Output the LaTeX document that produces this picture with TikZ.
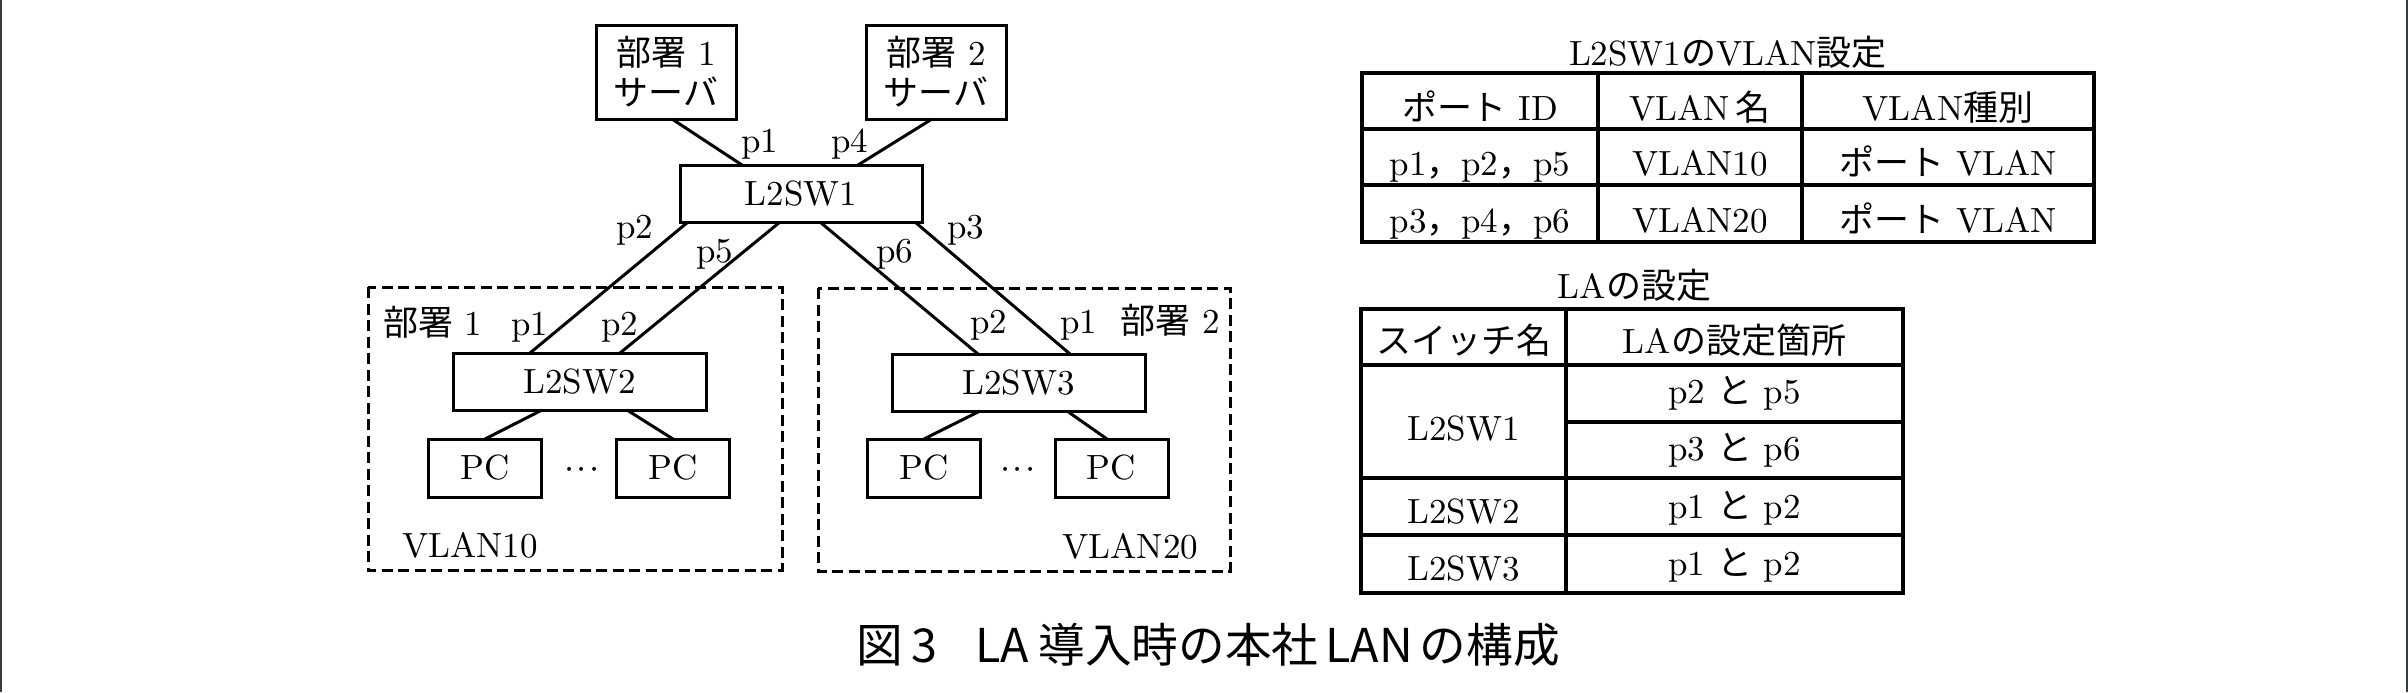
\documentclass[tikz,border=0pt]{standalone}
\usepackage{fontspec}
\newfontfamily\jpfont{Noto Sans CJK JP}
\usetikzlibrary{calc}
\newcommand\jpx[1]{{\jpfont #1}}
\definecolor{framecol}{RGB}{55,60,65}
\begin{document}
\begin{tikzpicture}[x=0.3pt,y=-0.3pt,
  every node/.style={font=\fontsize{10.5}{12}\selectfont, inner sep=0pt, outer sep=0pt},
  bx/.style={draw, line width=0.9pt, align=center},
  srv/.style={bx, minimum width=42pt, minimum height=28.2pt},
  swb/.style={bx, minimum width=75.9pt, minimum height=17.1pt},
  pcb/.style={bx, minimum width=33.9pt, minimum height=17.4pt},
  ln/.style={line width=0.9pt},
  grp/.style={line width=0.9pt, dash pattern=on 3.3pt off 1.65pt},
  tb/.style={line width=1.1pt},
  lbl/.style={anchor=base},
  frame/.style={line width=0.6pt, draw=framecol}]
\useasboundingbox (0,0) rectangle (2408,692);
\draw[frame] (1,0) -- (1,692);
\draw[frame] (2407,0) -- (2407,692);

% groups
\draw[grp] (368,287) rectangle (782,570);
\draw[grp] (818,288) rectangle (1230,571);

% nodes
\node[srv] (s1) at (666,72) {\jpx{部署} 1\\\jpx{サーバ}};
\node[srv] (s2) at (936,72) {\jpx{部署} 2\\\jpx{サーバ}};
\node[swb, minimum width=72.6pt] (sw1) at (801,193.5) {L2SW1};
\node[swb] (sw2) at (579.5,381.5) {L2SW2};
\node[swb] (sw3) at (1018.5,382.5) {L2SW3};
\node[pcb] (pc1) at (485,468) {PC};
\node[pcb] (pc2) at (673,468) {PC};
\node[pcb] (pc3) at (924,468) {PC};
\node[pcb] (pc4) at (1111.5,468) {PC};
\node[lbl] (d1) at (582,478) {$\cdot\!\cdot\!\cdot$};
\node[lbl] (d2) at (1018,478) {$\cdot\!\cdot\!\cdot$};

% connectors
\draw[ln] ($(s1.south)+(6,0)$) -- ($(sw1.north)+(-59,0)$);
\draw[ln] ($(s2.south)+(-4,0)$) -- ($(sw1.north)+(57,0)$);
\draw[ln] ($(sw1.south)+(-113,0)$) -- ($(sw2.north)+(-49.5,0)$);
\draw[ln] ($(sw1.south)+(-21,0)$) -- ($(sw2.north)+(40.5,0)$);
\draw[ln] ($(sw1.south)+(19,0)$) -- ($(sw3.north)+(-40.5,0)$);
\draw[ln] ($(sw1.south)+(114,0)$) -- ($(sw3.north)+(51.5,0)$);
\draw[ln] ($(sw2.south)+(-37.5,0)$) -- (pc1.north);
\draw[ln] ($(sw2.south)+(47.5,0)$) -- (pc2.north);
\draw[ln] ($(sw3.south)+(-38.5,0)$) -- (pc3.north);
\draw[ln] ($(sw3.south)+(48.5,0)$) -- ($(pc4.north)+(-4.5,0)$);

% port labels
\node[lbl] (t1) at (759.5,152) {p1};
\node[lbl] (t2) at (850,152) {p4};
\node[lbl] (t3) at (634.5,238) {p2};
\node[lbl] (t4) at (714.5,262) {p5};
\node[lbl] (t5) at (894.5,262) {p6};
\node[lbl] (t6) at (965.5,238) {p3};
\node[anchor=base west] (g1) at (383,335) {\jpx{部署} 1};
\node[lbl] (t7) at (530,335) {p1};
\node[lbl] (t8) at (620,335) {p2};
\node[anchor=base west] (v1) at (402,557) {VLAN10};
\node[lbl] (t9) at (989,333) {p2};
\node[lbl] (t10) at (1079,333) {p1};
\node[anchor=base east] (g2) at (1220,333) {\jpx{部署} 2};
\node[anchor=base east] (v2) at (1198,558) {VLAN20};

% table 1
\node[lbl] (ti1) at (1728,65) {L2SW1\jpx{の}VLAN\jpx{設定}};
\draw[tb] (1362,73) rectangle (2094,242);
\draw[tb] (1362,129) -- (2094,129);
\draw[tb] (1362,185) -- (2094,185);
\draw[tb] (1598,73) -- (1598,242);
\draw[tb] (1802,73) -- (1802,242);
\node[lbl] (a11) at (1480,120) {\jpx{ポート} ID};
\node[lbl] (a12) at (1700,120) {VLAN\,\jpx{名}};
\node[lbl] (a13) at (1948,120) {VLAN\jpx{種別}};
\node[lbl] (a21) at (1480,175) {p1\jpx{，}p2\jpx{，}p5};
\node[lbl] (a22) at (1700,175) {VLAN10};
\node[lbl] (a23) at (1948,175) {\jpx{ポート} VLAN};
\node[lbl] (a31) at (1480,232) {p3\jpx{，}p4\jpx{，}p6};
\node[lbl] (a32) at (1700,232) {VLAN20};
\node[lbl] (a33) at (1948,232) {\jpx{ポート} VLAN};

% table 2
\node[lbl] (ti2) at (1634.5,298) {LA\jpx{の設定}};
\draw[tb] (1361,309) rectangle (1903,593);
\draw[tb] (1361,365) -- (1903,365);
\draw[tb] (1566,422) -- (1903,422);
\draw[tb] (1361,478) -- (1903,478);
\draw[tb] (1361,535) -- (1903,535);
\draw[tb] (1566,309) -- (1566,593);
\node[lbl] (b11) at (1463.5,353) {\jpx{スイッチ名}};
\node[lbl] (b12) at (1734.5,353) {LA\jpx{の設定箇所}};
\node[lbl] (b21) at (1463.5,440) {L2SW1};
\node[lbl] (b22) at (1734.5,403) {p2 \jpx{と} p5};
\node[lbl] (b23) at (1734.5,460) {p3 \jpx{と} p6};
\node[lbl] (b31) at (1463.5,523) {L2SW2};
\node[lbl] (b32) at (1734.5,518) {p1 \jpx{と} p2};
\node[lbl] (b41) at (1463.5,580) {L2SW3};
\node[lbl] (b42) at (1734.5,575) {p1 \jpx{と} p2};

% caption
\node[lbl, font=\jpfont\fontsize{14}{16}\selectfont] (cap) at (1208,662)
  {図\hspace{0.2em}3\hspace{0.8em}LA\hspace{0.2em}導入時の本社\hspace{0.15em}LAN\hspace{0.15em}の構成};
\end{tikzpicture}
\end{document}
